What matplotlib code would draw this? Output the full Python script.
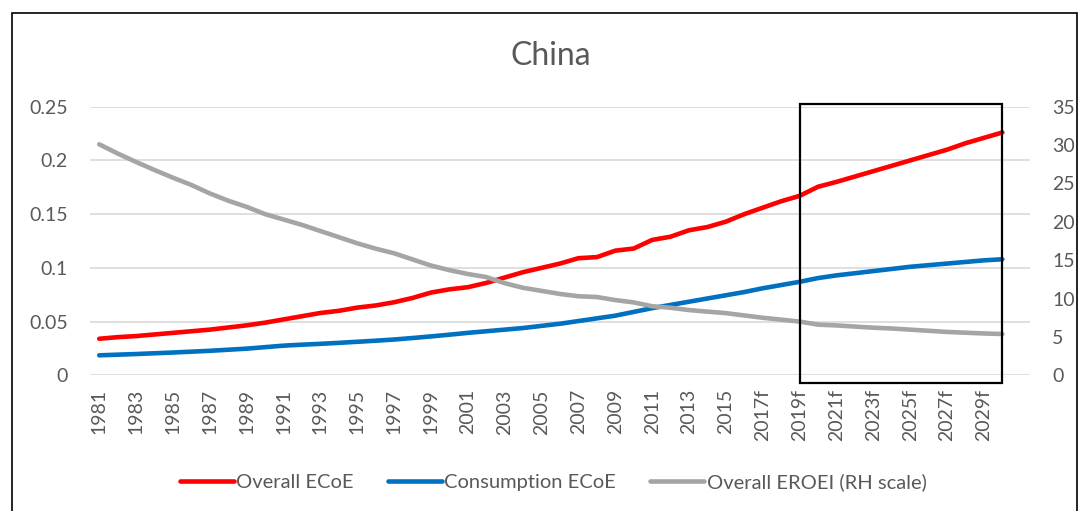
import matplotlib
matplotlib.use("Agg")
import matplotlib.pyplot as plt
from matplotlib.patches import Rectangle
import matplotlib.transforms as mtransforms

plt.rcParams['font.family'] = ['Lato', 'DejaVu Sans']

years = list(range(1981, 2031))
year_labels = [str(y) if y < 2017 else f"{y}f" for y in years]

overall_ecoe = [0.034, 0.0355, 0.0365, 0.038, 0.0395, 0.041, 0.0425, 0.0445, 0.0465, 0.049,
                0.052, 0.055, 0.058, 0.060, 0.063, 0.065, 0.068, 0.072, 0.077, 0.080,
                0.082, 0.086, 0.091, 0.096, 0.100, 0.104, 0.109, 0.110, 0.116, 0.118,
                0.126, 0.129, 0.135, 0.138, 0.143, 0.150, 0.156, 0.162, 0.167, 0.1755,
                0.180, 0.185, 0.190, 0.195, 0.200, 0.205, 0.210, 0.216, 0.221, 0.226]

consumption_ecoe = [0.0186, 0.0192, 0.0198, 0.0205, 0.0212, 0.022, 0.0228, 0.0238, 0.0248, 0.0262,
                    0.0276, 0.0285, 0.0293, 0.0302, 0.0312, 0.0322, 0.0333, 0.0347, 0.0362, 0.0378,
                    0.0395, 0.041, 0.0425, 0.0440, 0.046, 0.048, 0.0505, 0.053, 0.0555, 0.059,
                    0.0625, 0.0655, 0.0685, 0.0715, 0.0745, 0.0775, 0.081, 0.084, 0.087, 0.0905,
                    0.093, 0.095, 0.097, 0.099, 0.101, 0.1025, 0.104, 0.1055, 0.107, 0.108]

overall_eroei = [30.1, 28.9, 27.8, 26.75, 25.75, 24.8, 23.7, 22.75, 21.95, 21.0,
                 20.3, 19.6, 18.8, 18.0, 17.2, 16.5, 15.9, 15.1, 14.3, 13.7,
                 13.2, 12.8, 12.0, 11.4, 11.0, 10.6, 10.3, 10.2, 9.8, 9.5,
                 9.0, 8.8, 8.5, 8.3, 8.1, 7.8, 7.5, 7.25, 7.0, 6.6,
                 6.5, 6.35, 6.2, 6.1, 5.95, 5.8, 5.65, 5.55, 5.45, 5.38]

left_ticks = [0, 0.05, 0.1, 0.15, 0.2, 0.25]
left_tick_labels = ["0", "0.05", "0.1", "0.15", "0.2", "0.25"]
right_ticks = [0, 5, 10, 15, 20, 25, 30, 35]

RED = "#FF0000"
BLUE = "#0070C0"
GRAY = "#A5A5A5"
TXT = "#595959"
GRID = "#D9D9D9"

W, H = 1081, 511
fig = plt.figure(figsize=(W / 100, H / 100), dpi=100)

ax = fig.add_axes([90 / W, 1 - 375.3 / H, 940 / W, 268.6 / H])
ax2 = ax.twinx()

lw = 3.3
l1, = ax.plot(years, overall_ecoe, color=RED, lw=lw, solid_capstyle='round', label="Overall ECoE", zorder=3)
l2, = ax.plot(years, consumption_ecoe, color=BLUE, lw=lw, solid_capstyle='round', label="Consumption ECoE", zorder=3)
l3, = ax2.plot(years, overall_eroei, color=GRAY, lw=lw, solid_capstyle='round', label="Overall EROEI (RH scale)", zorder=2)

ax.set_xlim(1980.5, 2031.5)
ax.set_ylim(0, 0.25)
ax2.set_ylim(0, 35)

ax.set_yticks(left_ticks)
ax.set_yticklabels(left_tick_labels)
ax2.set_yticks(right_ticks)

ax.set_xticks(years[::2])
ax.set_xticklabels(year_labels[::2], rotation=90, va='top', ha='center')

for a in (ax, ax2):
    for s in a.spines.values():
        s.set_visible(False)
    a.tick_params(axis='both', length=0, labelsize=14, labelcolor=TXT)
ax.tick_params(axis='y', pad=16)
ax2.tick_params(axis='y', pad=16)
ax.tick_params(axis='x', pad=10)

ax.grid(axis='y', color=GRID, lw=1.2, zorder=0)
ax.set_axisbelow(True)

# Highlight box around the forecast period
trans = mtransforms.blended_transform_factory(ax2.transData, ax2.transAxes)
box = Rectangle((2019, -0.0287), 11, 1.0388, transform=trans, fill=False,
                edgecolor='black', lw=1.6, clip_on=False, zorder=10)
ax2.add_patch(box)

fig.text(551 / W, 1 - 56 / H, "China", ha='center', va='center', fontsize=23, color=TXT)

fig.legend(handles=[l1, l2, l3], loc='center', bbox_to_anchor=(553 / W, 1 - 482 / H),
           ncol=3, frameon=False, fontsize=14.5, handlelength=2.7, handletextpad=0.1,
           columnspacing=1.7, labelcolor=TXT)

# Outer chart frame
frame = Rectangle((11.5 / W, -0.05), (1077 - 11.5) / W, 1.05 - 13 / H, transform=fig.transFigure,
                  fill=False, edgecolor='black', lw=1.2, clip_on=False)
fig.patches.append(frame)

fig.savefig("out.png", dpi=100)
